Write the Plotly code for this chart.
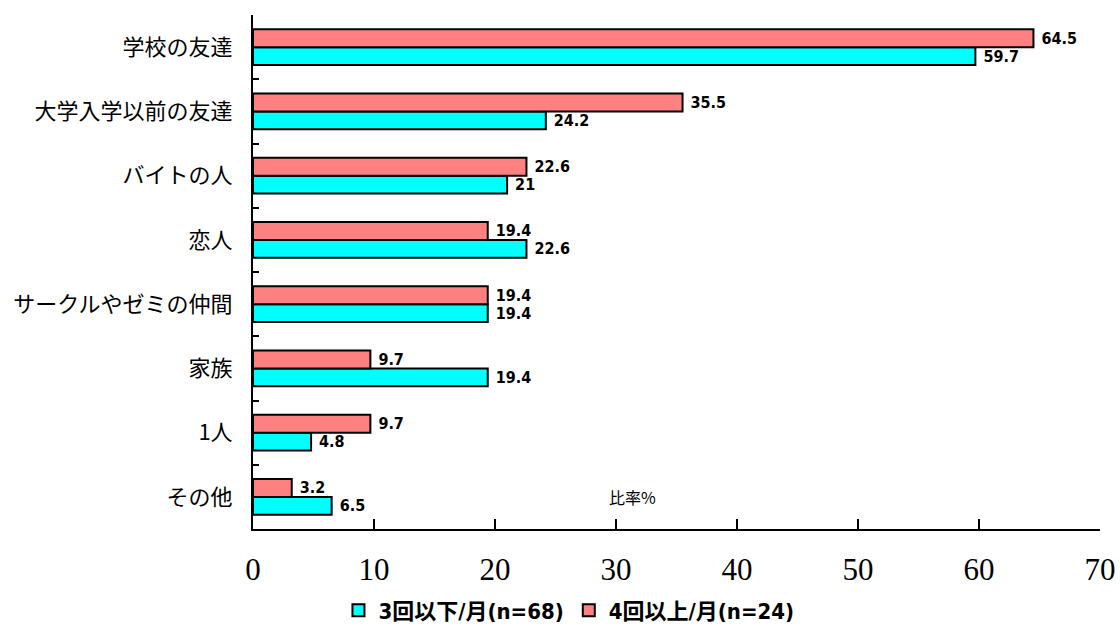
import plotly.graph_objects as go

# Categories listed bottom-to-top along the y axis
categories = ["その他", "1人", "家族", "サークルやゼミの仲間", "恋人", "バイトの人", "大学入学以前の友達", "学校の友達"]
low_freq = [6.5, 4.8, 19.4, 19.4, 22.6, 21, 24.2, 59.7]      # 3回以下/月(n=68)
high_freq = [3.2, 9.7, 9.7, 19.4, 19.4, 22.6, 35.5, 64.5]    # 4回以上/月(n=24)
x_ticks = [0, 10, 20, 30, 40, 50, 60, 70]

narrow_bold = "DejaVu Sans Condensed, Noto Sans CJK JP, sans-serif"
label_font = dict(family=narrow_bold, size=16, color="black", weight="bold")

def fmt(v):
    # leading space keeps the value a little away from the bar end
    return f" {v:g}"

fig = go.Figure()
fig.add_trace(go.Bar(
    y=categories, x=low_freq, orientation="h", name="3回以下/月(n=68)",
    marker=dict(color="#00FFFF", line=dict(color="black", width=2)),
    text=[fmt(v) for v in low_freq], textposition="outside",
    textfont=label_font, constraintext="none", cliponaxis=False,
))
fig.add_trace(go.Bar(
    y=categories, x=high_freq, orientation="h", name="4回以上/月(n=24)",
    marker=dict(color="#FF8080", line=dict(color="black", width=2)),
    text=[fmt(v) for v in high_freq], textposition="outside",
    textfont=label_font, constraintext="none", cliponaxis=False,
))

fig.add_annotation(
    text="比率%", x=31.4, y=0.035, xref="x", yref="paper", showarrow=False,
    font=dict(family="Noto Sans CJK JP", size=16, color="black"),
)

fig.update_layout(
    width=1120, height=630,
    margin=dict(l=253, r=20, t=15, b=101, autoexpand=False),
    paper_bgcolor="white", plot_bgcolor="white",
    barmode="group", bargap=0.44, bargroupgap=0,
    showlegend=True,
    legend=dict(
        orientation="h", xref="container", yref="container",
        x=0.508, xanchor="center", y=0.031, yanchor="middle",
        font=dict(family=narrow_bold, size=22, color="black", weight="bold"),
        traceorder="normal", itemwidth=30,
    ),
    xaxis=dict(
        range=[0, 70], tickvals=x_ticks, showgrid=False, zeroline=False,
        showline=True, linecolor="black", linewidth=2,
        ticks="inside", ticklen=10, tickwidth=2, tickcolor="black",
        tickfont=dict(family="Liberation Serif, serif", size=31, color="black"),
        ticklabelstandoff=12,
    ),
    yaxis=dict(
        categoryorder="array", categoryarray=categories,
        showgrid=False, zeroline=False,
        showline=True, linecolor="black", linewidth=2,
        ticks="inside", tickson="boundaries", ticklen=6, tickwidth=2, tickcolor="black",
        tickfont=dict(family="Noto Sans CJK JP", size=22, color="black"),
        ticklabelstandoff=14,
    ),
)

fig.write_html("out.html")
